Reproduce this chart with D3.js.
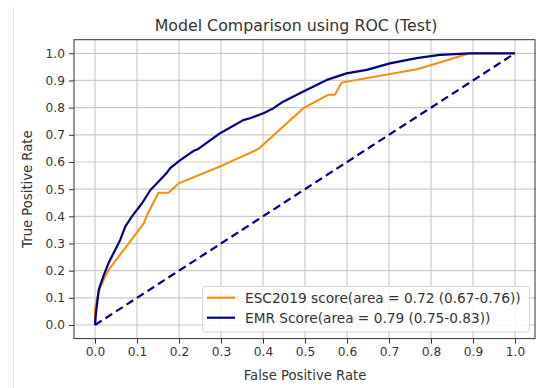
<!DOCTYPE html>
<html>
<head>
<meta charset="utf-8">
<script src="https://cdn.jsdelivr.net/npm/d3@7"></script>
<style>
  body { margin: 0; background: #fff; }
  svg { display: block; font-family: "DejaVu Sans", sans-serif; }
</style>
</head>
<body>
<div id="chart"></div>
<script>
// ROC points
const escFpr = [0, 0, 0.005, 0.013, 0.032, 0.116, 0.124, 0.151, 0.175, 0.199, 0.306, 0.389, 0.496, 0.555, 0.571, 0.587, 0.766, 0.801, 0.892, 1.0];
const escTpr = [0, 0.06, 0.10, 0.141, 0.202, 0.374, 0.405, 0.487, 0.487, 0.521, 0.589, 0.648, 0.798, 0.847, 0.847, 0.892, 0.941, 0.957, 1.0, 1.0];

const emrFpr = [0, 0.002, 0.009, 0.02, 0.032, 0.044, 0.06, 0.072, 0.088, 0.112, 0.132, 0.155, 0.171, 0.179, 0.203, 0.234, 0.246, 0.298, 0.353, 0.369, 0.401, 0.425, 0.448, 0.496, 0.552, 0.599, 0.647, 0.702, 0.766, 0.821, 0.892, 1.0];
const emrTpr = [0, 0.04, 0.13, 0.18, 0.227, 0.264, 0.313, 0.362, 0.40, 0.448, 0.497, 0.534, 0.56, 0.577, 0.607, 0.64, 0.648, 0.706, 0.754, 0.761, 0.779, 0.798, 0.822, 0.859, 0.902, 0.926, 0.939, 0.963, 0.982, 0.994, 1.0, 1.0];

const chanceFpr = [0, 1];
const chanceTpr = [0, 1];

const tickValues = [0, 0.1, 0.2, 0.3, 0.4, 0.5, 0.6, 0.7, 0.8, 0.9, 1.0];

const seriesNames = [
  'ESC2019 score(area = 0.72 (0.67-0.76))',
  'EMR Score(area = 0.79 (0.75-0.83))'
];
const seriesColors = ['#ff8c00', '#000080'];

const W = 536, H = 388;
const plotLeft = 74, plotRight = 536, plotTop = 39.7, plotBottom = 338.6;

const svg = d3.select('#chart').append('svg')
  .attr('width', W)
  .attr('height', H);

// notebook output border
svg.append('line')
  .attr('x1', 13.5).attr('x2', 13.5)
  .attr('y1', 7).attr('y2', H)
  .attr('stroke', '#e4e4e4');

const x = d3.scaleLinear().domain([-0.05, 1.05]).range([plotLeft, plotRight]);
const y = d3.scaleLinear().domain([-0.05, 1.05]).range([plotBottom, plotTop]);

// grid
svg.append('g').selectAll('line')
  .data(tickValues)
  .enter().append('line')
  .attr('x1', d => x(d)).attr('x2', d => x(d))
  .attr('y1', plotTop).attr('y2', plotBottom)
  .attr('stroke', '#cbcbcb').attr('stroke-width', 1.2);
svg.append('g').selectAll('line')
  .data(tickValues)
  .enter().append('line')
  .attr('x1', plotLeft).attr('x2', plotRight)
  .attr('y1', d => y(d)).attr('y2', d => y(d))
  .attr('stroke', '#cbcbcb').attr('stroke-width', 1.2);

const line = d3.line().x(d => x(d[0])).y(d => y(d[1]));

svg.append('path')
  .datum(d3.zip(escFpr, escTpr))
  .attr('d', line)
  .attr('fill', 'none')
  .attr('stroke', seriesColors[0])
  .attr('stroke-width', 2)
  .attr('stroke-linejoin', 'round');

svg.append('path')
  .datum(d3.zip(emrFpr, emrTpr))
  .attr('d', line)
  .attr('fill', 'none')
  .attr('stroke', seriesColors[1])
  .attr('stroke-width', 2.2)
  .attr('stroke-linejoin', 'round');

svg.append('path')
  .datum(d3.zip(chanceFpr, chanceTpr))
  .attr('d', line)
  .attr('fill', 'none')
  .attr('stroke', '#000080')
  .attr('stroke-width', 2.2)
  .attr('stroke-dasharray', '8,4.5');

// axes
const xAxis = svg.append('g')
  .attr('transform', `translate(0,${plotBottom})`)
  .call(d3.axisBottom(x).tickValues(tickValues).tickFormat(d3.format('.1f')).tickSize(5).tickPadding(4));
const yAxis = svg.append('g')
  .attr('transform', `translate(${plotLeft},0)`)
  .call(d3.axisLeft(y).tickValues(tickValues).tickFormat(d3.format('.1f')).tickSize(5).tickPadding(4));

[xAxis, yAxis].forEach(a => {
  a.select('.domain').remove();
  a.selectAll('text').attr('font-size', 12.2).attr('fill', '#333').attr('font-family', '"DejaVu Sans", sans-serif');
  a.selectAll('line').attr('stroke', '#333');
});

// frame
svg.append('rect')
  .attr('x', plotLeft).attr('y', plotTop)
  .attr('width', plotRight - plotLeft - 1).attr('height', plotBottom - plotTop)
  .attr('fill', 'none')
  .attr('stroke', '#333')
  .attr('stroke-width', 1);

// legend
const lg = svg.append('g');
lg.append('rect')
  .attr('x', 202.5).attr('y', 286.5)
  .attr('width', 327).attr('height', 45.5)
  .attr('rx', 3)
  .attr('fill', 'rgba(255,255,255,0.8)')
  .attr('stroke', '#d6d6d6');
seriesNames.forEach((name, i) => {
  const yy = 297.7 + i * 20;
  lg.append('line')
    .attr('x1', 207).attr('x2', 235)
    .attr('y1', yy).attr('y2', yy)
    .attr('stroke', seriesColors[i]).attr('stroke-width', 2.2);
  lg.append('text')
    .attr('x', 245).attr('y', yy + 5)
    .attr('font-size', 13.7)
    .attr('fill', '#333')
    .text(name);
});

// titles
svg.append('text')
  .attr('x', 296).attr('y', 31)
  .attr('text-anchor', 'middle')
  .attr('font-size', 15.8)
  .attr('fill', '#333')
  .text('Model Comparison using ROC (Test)');

svg.append('text')
  .attr('x', (plotLeft + plotRight) / 2).attr('y', 380)
  .attr('text-anchor', 'middle')
  .attr('font-size', 13.2)
  .attr('fill', '#333')
  .text('False Positive Rate');

svg.append('text')
  .attr('transform', `translate(32,${(plotTop + plotBottom) / 2}) rotate(-90)`)
  .attr('text-anchor', 'middle')
  .attr('font-size', 13.2)
  .attr('fill', '#333')
  .text('True Positive Rate');
</script>
</body>
</html>
